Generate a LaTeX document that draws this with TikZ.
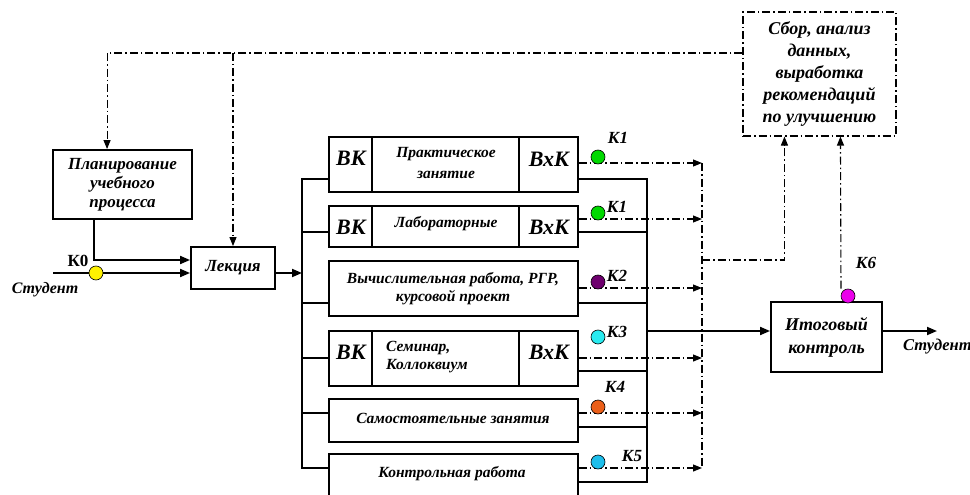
\documentclass[tikz,border=0pt]{standalone}
\usepackage{fontspec}
\setmainfont{Liberation Serif}
\usetikzlibrary{arrows.meta,calc}
\begin{document}
\begin{tikzpicture}[x=1pt,y=-1pt,
 ln/.style={line width=1.9pt},
 arr/.style={ln,-{Triangle[length=10pt,width=8pt]}},
 dd/.style={line width=1.1pt,dash pattern=on 8pt off 3pt on 1.5pt off 3pt},
 ddarr/.style={dd,-{Triangle[length=9pt,width=7pt]}},
 blk/.style={draw,line width=1.9pt,inner sep=0pt,align=center},
 btxt/.style={font=\fontsize{17}{19}\selectfont\bfseries\itshape},
 stxt/.style={inner sep=0pt,font=\fontsize{15.5}{20}\selectfont\bfseries\itshape,align=center},
 bk/.style={inner sep=0pt,font=\fontsize{22}{22}\selectfont\bfseries\itshape},
 kl/.style={inner sep=0pt,font=\fontsize{17}{17}\selectfont\bfseries\itshape},
 dot/.style={circle,draw,line width=0.6pt,minimum size=14pt,inner sep=0pt},
]
\useasboundingbox (0,0) rectangle (970,495);

% main blocks
\node[blk,btxt,minimum width=139pt,minimum height=69pt] (plan) at (122.5,184.5) {Планирование\\учебного\\процесса};
\node[blk,btxt,minimum width=84pt,minimum height=42pt] (lek) at (233,268) {Лекция};
\node[blk,minimum width=111pt,minimum height=70pt,font=\fontsize{18}{23}\selectfont\bfseries\itshape] (itog) at (826.5,337) {Итоговый\\контроль};
\node[draw,dd,align=center,inner sep=0pt,minimum width=153pt,minimum height=124pt,font=\fontsize{18}{22}\selectfont\bfseries\itshape] (sbor) at (819.5,74) {Сбор, анализ\\данных,\\выработка\\рекомендаций\\по улучшению};

% activity boxes
\node[blk,minimum width=249pt,minimum height=55pt] (b1) at (453.5,164.5) {};
\node[blk,minimum width=249pt,minimum height=41pt] (b2) at (453.5,226.5) {};
\node[blk,minimum width=249pt,minimum height=55pt] (b3) at (453.5,288.5) {};
\node[blk,minimum width=249pt,minimum height=55pt] (b4) at (453.5,358.5) {};
\node[blk,minimum width=249pt,minimum height=43pt] (b5) at (453.5,420.5) {};
\node[blk,minimum width=249pt,minimum height=46pt] (b6) at (453.5,477) {};

\foreach \b in {b1,b2,b4}{
  \draw[ln] ($(\b.north west)+(44,0)$) -- ($(\b.south west)+(44,0)$);
  \draw[ln] ($(\b.north west)+(191,0)$) -- ($(\b.south west)+(191,0)$);
}

\node[stxt,font=\fontsize{15.5}{21}\selectfont\bfseries\itshape] (b1t) at (446,163) {Практическое\\занятие};
\node[bk] (b1l) at (351,158) {ВК};
\node[bk] (b1r) at (549,159) {ВхК};
\node[stxt] (b2t) at (446,224) {Лабораторные};
\node[bk] (b2l) at (351,227) {ВК};
\node[bk] (b2r) at (549,227) {ВхК};
\node[stxt,font=\fontsize{15.5}{18}\selectfont\bfseries\itshape] (b3t) at (453,289) {Вычислительная работа, РГР,\\курсовой проект};
\node[stxt,align=left,anchor=west,font=\fontsize{15.5}{18}\selectfont\bfseries\itshape] (b4t) at (386,357) {Семинар,\\Коллоквиум};
\node[bk] (b4l) at (351,352) {ВК};
\node[bk] (b4r) at (549,352) {ВхК};
\node[stxt] (b5t) at (453,418) {Самостоятельные занятия};
\node[stxt] (b6t) at (452,474) {Контрольная работа};

% feedback (dash-dot) lines at the top
\draw[ddarr] (sbor.west |- 0,53) -| ($(plan.north west)+(55,0)$);
\draw[ddarr] (lek.north |- 0,53) -- (lek.north);

% inputs to lecture
\coordinate (sin) at (53,273);
\draw[arr] ($(plan.south west)+(42,0)$) |- (lek.west |- 0,260);
\draw[arr] (sin) -- (lek.west |- sin);

% left bus
\coordinate (lbt) at (302,179);
\coordinate (lbb) at (302,468);
\draw[arr] (lek.east |- 0,273) -- (lbt |- 0,273);
\draw[ln] (b1.west |- lbt) -| (lbb) -- (b6.west |- lbb);
\foreach \b/\y in {b2/232,b3/303,b4/358,b5/413}
  \draw[ln] (lbt |- 0,\y) -- (\b.west |- 0,\y);

% right bus
\coordinate (rbt) at (647,179);
\coordinate (rbb) at (647,482);
\draw[ln] (b1.east |- rbt) -| (rbb) -- (b6.east |- rbb);
\foreach \b/\y in {b2/232,b3/303,b4/371,b5/427}
  \draw[ln] (\b.east |- 0,\y) -- (rbt |- 0,\y);
\draw[arr] (rbt |- 0,331) -- (itog.west |- 0,331);
\coordinate (sout) at (937,331);
\draw[arr] (itog.east |- sout) -- (sout);

% control dash-dot lines
\coordinate (dvt) at (702,163);
\coordinate (dvb) at (702,468);
\foreach \b/\y in {b1/163,b2/219,b3/288,b4/358,b5/413,b6/468}
  \draw[ddarr] (\b.east |- 0,\y) -- (dvt |- 0,\y);
\draw[dd] (dvt) -- (dvb);
\draw[ddarr] (dvt |- 0,260) -| ($(sbor.south west)+(42,0)$);

% control points
\node[dot,fill=yellow] (k0) at (96,273) {};
\node[dot,fill=green!85!black] (k1) at (598,157) {};
\node[dot,fill=green!85!black] (k1b) at (598,213) {};
\node[dot,fill={rgb,255:red,110;green,0;blue,110}] (k2) at (598,282) {};
\node[dot,fill={rgb,255:red,40;green,235;blue,240}] (k3) at (598,337) {};
\node[dot,fill={rgb,255:red,235;green,95;blue,25}] (k4) at (598,407) {};
\node[dot,fill={rgb,255:red,30;green,190;blue,235}] (k5) at (598,462) {};
\node[dot,fill={rgb,255:red,235;green,0;blue,235}] (k6) at (848,296) {};
\draw[ddarr] ($(k6.north)+(-7,0)$) -- ($(sbor.south west)+(98,0)$);

\node[kl,font=\fontsize{17}{17}\selectfont\bfseries] (k0l) at (78,261) {К0};
\node[kl] (k1l) at (618,138) {К1};
\node[kl] (k1bl) at (617,207) {К1};
\node[kl] (k2l) at (617,276) {К2};
\node[kl] (k3l) at (617,332) {К3};
\node[kl] (k4l) at (615,387) {К4};
\node[kl] (k5l) at (632,456) {К5};
\node[kl] (k6l) at (866,263) {К6};

\node[inner sep=0pt,font=\fontsize{16}{16}\selectfont\bfseries\itshape] (stl) at (45,290) {Студент};
\node[inner sep=0pt,anchor=west,font=\fontsize{16.5}{16.5}\selectfont\bfseries\itshape] (str) at (903,347) {Студент};
\end{tikzpicture}
\end{document}
